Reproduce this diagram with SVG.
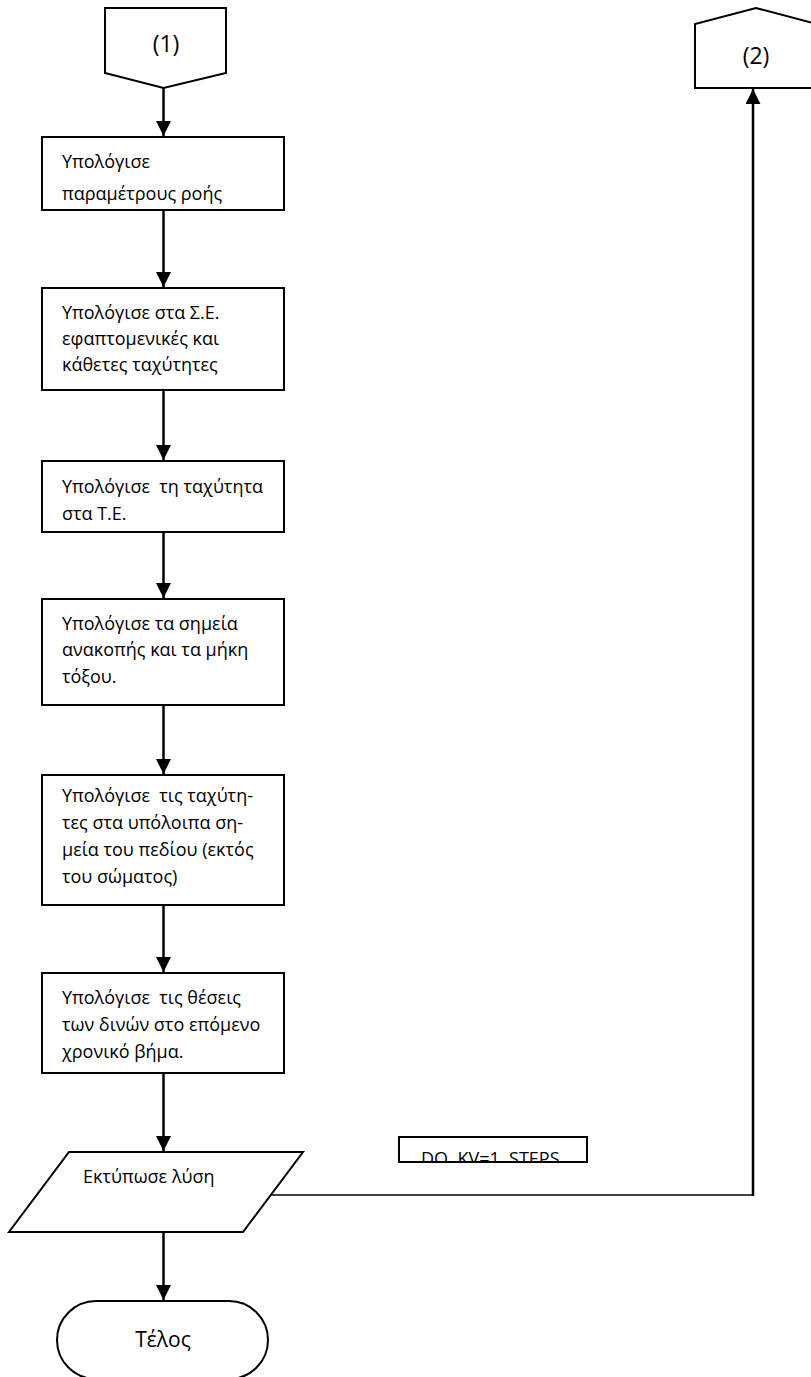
<svg xmlns="http://www.w3.org/2000/svg" width="811" height="1377" viewBox="0 0 811 1377">
<style>
.shape{fill:#fff;stroke:#000;stroke-width:2}
.t{font-family:"Open Sans","Noto Sans","DejaVu Sans",sans-serif;font-size:18px;fill:#000}
.lbl{font-family:"Open Sans","Noto Sans","DejaVu Sans",sans-serif;font-size:23px;fill:#000;text-anchor:middle}
.conn{fill:none;stroke:#000;stroke-width:2.5}
.thin{fill:none;stroke:#000;stroke-width:1.5}
</style>
<defs>
<marker id="arr" viewBox="0 0 10 10" refX="10" refY="5" markerWidth="6" markerHeight="6" orient="auto" markerUnits="strokeWidth">
<path d="M0,0 L10,5 L0,10 z" fill="#000"/>
</marker>
<clipPath id="doclip"><rect x="399" y="1137" width="188" height="25"/></clipPath>
</defs>
<rect width="811" height="1377" fill="#fff"/>
<g id="connectors">
<line class="conn" x1="163.5" y1="88" x2="163.5" y2="136" marker-end="url(#arr)"/>
<line class="conn" x1="163.5" y1="210" x2="163.5" y2="287" marker-end="url(#arr)"/>
<line class="conn" x1="163.5" y1="390" x2="163.5" y2="460" marker-end="url(#arr)"/>
<line class="conn" x1="163.5" y1="532" x2="163.5" y2="598" marker-end="url(#arr)"/>
<line class="conn" x1="163.5" y1="705" x2="163.5" y2="774" marker-end="url(#arr)"/>
<line class="conn" x1="163.5" y1="905" x2="163.5" y2="972" marker-end="url(#arr)"/>
<line class="conn" x1="163.5" y1="1073" x2="163.5" y2="1151" marker-end="url(#arr)"/>
<line class="conn" x1="163.5" y1="1232" x2="163.5" y2="1300" marker-end="url(#arr)"/>
<line class="thin" x1="267" y1="1195" x2="753" y2="1195"/>
<line class="conn" x1="753" y1="1196" x2="753" y2="89" marker-end="url(#arr)"/>
</g>
<g id="conn1">
<polygon class="shape" points="105,8 226,8 226,73 163.5,88 105,73"/>
<text class="lbl" x="166" y="52">(1)</text>
</g>
<g id="conn2">
<polygon class="shape" points="695,88 695,24 756,8 817,24 817,88"/>
<text class="lbl" x="756" y="64">(2)</text>
</g>
<g id="box1">
<rect class="shape" x="42" y="137" width="242" height="73"/>
<text class="t" x="62" y="168">Υπολόγισε</text>
<text class="t" x="62" y="200">παραμέτρους ροής</text>
</g>
<g id="box2">
<rect class="shape" x="42" y="288" width="242" height="102"/>
<text class="t" x="62" y="319">Υπολόγισε στα Σ.Ε.</text>
<text class="t" x="62" y="345">εφαπτομενικές και</text>
<text class="t" x="62" y="371">κάθετες ταχύτητες</text>
</g>
<g id="box3">
<rect class="shape" x="42" y="461" width="242" height="71"/>
<text class="t" x="62" y="493" xml:space="preserve">Υπολόγισε  τη ταχύτητα</text>
<text class="t" x="62" y="520">στα Τ.Ε.</text>
</g>
<g id="box4">
<rect class="shape" x="42" y="599" width="242" height="106"/>
<text class="t" x="62" y="630">Υπολόγισε τα σημεία</text>
<text class="t" x="62" y="656">ανακοπής και τα μήκη</text>
<text class="t" x="62" y="683">τόξου.</text>
</g>
<g id="box5">
<rect class="shape" x="42" y="775" width="242" height="130"/>
<text class="t" x="62" y="802" xml:space="preserve">Υπολόγισε  τις ταχύτη-</text>
<text class="t" x="62" y="829">τες στα υπόλοιπα ση-</text>
<text class="t" x="62" y="856">μεία του πεδίου (εκτός</text>
<text class="t" x="62" y="883">του σώματος)</text>
</g>
<g id="box6">
<rect class="shape" x="42" y="973" width="242" height="100"/>
<text class="t" x="62" y="1004" xml:space="preserve">Υπολόγισε  τις θέσεις</text>
<text class="t" x="62" y="1031">των δινών στο επόμενο</text>
<text class="t" x="62" y="1058">χρονικό βήμα.</text>
</g>
<g id="print">
<polygon class="shape" points="69,1152 303,1152 243,1232 9,1232"/>
<text class="t" x="83" y="1183">Εκτύπωσε λύση</text>
</g>
<g id="doloop">
<rect class="shape" x="399" y="1137" width="188" height="25" stroke-width="1.5"/>
<text class="t" x="421" y="1165" clip-path="url(#doclip)" xml:space="preserve">DO  KV=1, STEPS</text>
</g>
<g id="end">
<rect class="shape" x="57" y="1301" width="211" height="78" rx="39" ry="39"/>
<text class="lbl" x="163" y="1347" style="font-size:21px">Τέλος</text>
</g>
</svg>
